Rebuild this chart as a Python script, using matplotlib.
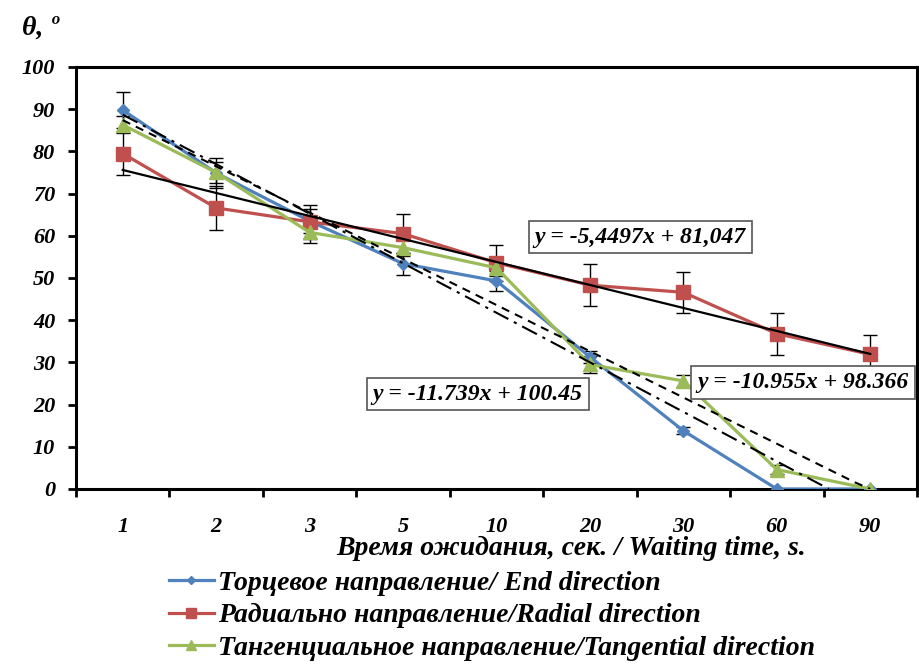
import numpy as np
import matplotlib
matplotlib.use("Agg")
import matplotlib.pyplot as plt

plt.rcParams['font.family'] = ['Liberation Serif', 'DejaVu Serif']
plt.rcParams['font.weight'] = 'bold'
plt.rcParams['font.style'] = 'italic'

# waiting time categories
times = ['1', '2', '3', '5', '10', '20', '30', '60', '90']

end_dir = [89.8, 74.9, 63.5, 53.4, 49.3, 31.3, 13.8, 0, 0]
end_err = [4.2, 3.6, 2.8, 2.6, 2.4, 1.5, 0.8, 0, 0]

radial_dir = [79.5, 66.6, 63.3, 60.5, 53.6, 48.3, 46.6, 36.8, 31.9]
radial_err = [5.0, 5.2, 4.0, 4.6, 4.2, 5.0, 4.9, 5.0, 4.6]

tang_dir = [86.3, 75.0, 60.8, 57.2, 52.4, 29.5, 25.6, 4.6, 0]
tang_err = [2.0, 2.5, 2.5, 2.0, 2.0, 2.0, 1.5, 1.0, 0]

# trend line coefficients (slope, intercept) as printed on the chart
end_fit = (-11.739, 100.45)
radial_fit = (-5.4497, 81.047)
tang_fit = (-10.955, 98.366)

labels = ['Торцевое направление/ End direction',
          'Радиально направление/Radial direction',
          'Тангенциальное направление/Tangential direction']

blue = '#4F81BD'
red = '#C0504D'
green = '#9BBB59'

fig = plt.figure(figsize=(9.19, 6.66), dpi=100)
ax = fig.add_axes([0.0827, 0.2658, 0.9151, 0.6336])

x = np.arange(1, len(times) + 1)

# error bars
for vals, err in [(end_dir, end_err), (radial_dir, radial_err), (tang_dir, tang_err)]:
    ax.errorbar(x, vals, yerr=err, fmt='none', ecolor='black', elinewidth=1.0,
                capsize=5, capthick=1.0, zorder=2)

h1, = ax.plot(x, end_dir, color=blue, lw=2.3, marker='D', ms=6, zorder=3)
h2, = ax.plot(x, radial_dir, color=red, lw=2.3, marker='s', ms=10, zorder=3)
h3, = ax.plot(x, tang_dir, color=green, lw=2.3, marker='^', ms=10, zorder=3)

# trend lines
xe = np.linspace(1, -end_fit[1] / end_fit[0], 50)
ax.plot(xe, end_fit[0] * xe + end_fit[1], color='black', lw=1.5,
        dashes=(8, 3, 1.5, 3), zorder=4)
xr = np.linspace(1, 9, 50)
ax.plot(xr, radial_fit[0] * xr + radial_fit[1], color='black', lw=1.6, zorder=4)
xt = np.linspace(1, 9, 50)
ax.plot(xt, np.clip(tang_fit[0] * xt + tang_fit[1], 0, None), color='black',
        lw=1.5, dashes=(4, 3), zorder=4)

ax.set_xlim(0.5, 9.5)
ax.set_ylim(0, 100)
ax.set_yticks(range(0, 101, 10))
ax.set_xticks(x)
ax.set_xticklabels(times)
ax.set_xticks(np.arange(0.5, 9.6, 1), minor=True)
ax.tick_params(axis='x', which='major', length=0, pad=20, labelsize=16)
ax.tick_params(axis='x', which='minor', length=6, width=2, direction='out')
ax.tick_params(axis='y', length=6, width=2, direction='out', pad=9, labelsize=16)
for s in ax.spines.values():
    s.set_linewidth(2.2)

bbox = dict(boxstyle='square,pad=0.25', fc='white', ec='#555555', lw=1.2)
ax.text(6.54, 59.7, 'y = -5,4497x + 81,047', fontsize=17, ha='center', va='center',
        bbox=bbox, zorder=6)
ax.text(4.8, 22.5, 'y = -11.739x + 100.45', fontsize=17, ha='center', va='center',
        bbox=bbox, zorder=6)
ax.text(7.15, 25.3, 'y = -10.955x + 98.366', fontsize=17, ha='left', va='center',
        bbox=bbox, zorder=6, clip_on=False)

fig.text(0.044, 0.958, 'θ, º', fontsize=20, ha='center', va='center')
fig.text(0.621, 0.177, 'Время ожидания, сек. / Waiting time, s.', fontsize=20,
         ha='center', va='center')

fig.legend([h1, h2, h3], labels, loc='upper left', bbox_to_anchor=(0.172, 0.16),
           frameon=False, fontsize=20, handlelength=1.6, handletextpad=0.15,
           labelspacing=0.25, borderaxespad=0, markerscale=0.7)

fig.savefig('out.png', dpi=100)
